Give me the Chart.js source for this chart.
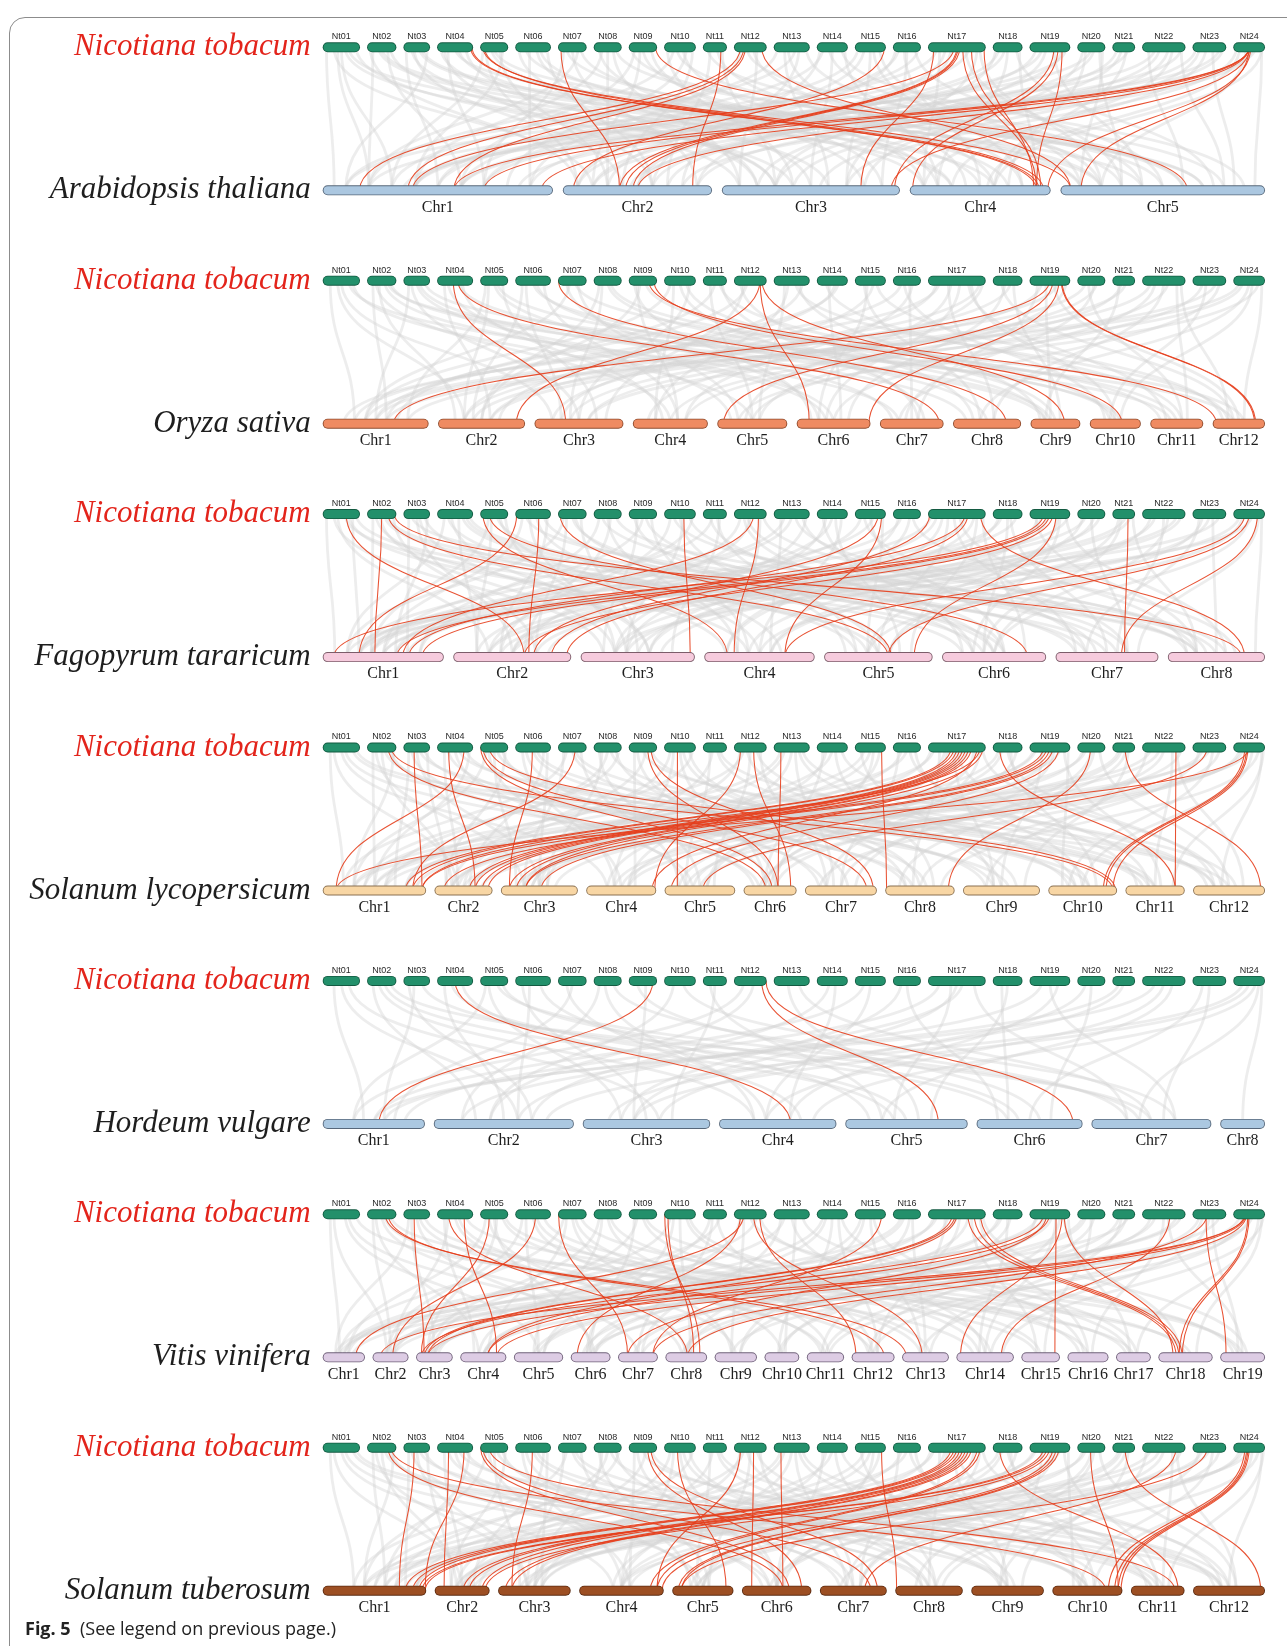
<!DOCTYPE html>
<html>
<head>
<meta charset="utf-8">
<script src="https://cdn.jsdelivr.net/npm/chart.js@4.4.1/dist/chart.umd.min.js"></script>
<style>
  html, body { margin: 0; padding: 0; background: #fff; }
  #wrap { position: relative; width: 1287px; height: 1646px; overflow: hidden; }
  #frame { position: absolute; left: 9px; top: 17px; width: 1320px; height: 1660px;
           border: 1.5px solid #8c8c8c; border-radius: 16px; box-sizing: border-box; }
  #c { position: absolute; left: 0; top: 0; }
  #cap { position: absolute; left: 25px; top: 1617px; font-family: "Open Sans", sans-serif;
         font-size: 18px; line-height: 22px; color: #222; white-space: nowrap; }
  #cap b { font-weight: 700; }
</style>
</head>
<body>
<div id="wrap">
  <div id="frame"></div>
  <canvas id="c" width="1287" height="1646"></canvas>
  <div id="cap"><b>Fig. 5</b>&nbsp; (See legend on previous page.)</div>
</div>
<script>
// ---- Nicotiana tabacum pseudo-chromosomes (relative lengths) ----
const ntNames = ['Nt01','Nt02','Nt03','Nt04','Nt05','Nt06','Nt07','Nt08','Nt09','Nt10','Nt11','Nt12',
                 'Nt13','Nt14','Nt15','Nt16','Nt17','Nt18','Nt19','Nt20','Nt21','Nt22','Nt23','Nt24'];
const ntLengths = [37.3, 29.3, 26.6, 36.0, 28.0, 35.7, 28.6, 28.0, 28.3, 31.7, 24.0, 32.7,
                   36.0, 31.0, 31.0, 28.0, 57.7, 29.7, 40.7, 28.0, 22.7, 43.3, 33.7, 31.7];

// ---- compared species ----
const speciesNames = ['Arabidopsis thaliana', 'Oryza sativa', 'Fagopyrum tararicum',
                      'Solanum lycopersicum', 'Hordeum vulgare', 'Vitis vinifera', 'Solanum tuberosum'];
const athLengths = [30.4, 19.7, 23.5, 18.6, 27.0];
const osaLengths = [168, 138, 141, 119, 111, 117, 101, 108, 79, 81, 84, 83];
const ftaLengths = [192, 187, 181, 175, 172, 165, 163, 154];
const slyLengths = [164, 92, 122, 111, 112, 84, 114, 110, 122, 109, 94, 114];
const hvuLengths = [162, 222, 202, 186, 194, 168, 190, 71];
const vviLengths = [67, 57, 58, 73, 78, 63, 63, 66, 67, 55, 59, 68, 74, 91, 61, 65, 55, 86, 71];
const stuLengths = [164, 87, 115, 134, 97, 110, 106, 107, 115, 111, 85, 114];

// Links: "ntChr.pos>chr.pos" (pos = fraction along the chromosome)
const athRed = `4.93>4.9 4.97>4.92 5.1>5.05 5.15>4.95 7.1>2.38 9.95>5.62 11.75>2.87 12.2>1.16 12.3>1.37
 12.35>1.57 12.85>5.05 15.95>2.07 17.1>3.78 17.45>1.39 17.5>2.38 17.52>2.42 17.55>2.47 17.6>4.9 17.75>4.93
 17.97>4.88 19.6>3.97 19.7>4.02 19.8>4.9 24.5>1.57 24.5>1.7 24.5>1.95 24.5>2.5 24.52>3.95 24.55>4.98 24.5>5.1`;
const athGray = `1.1>1.05 1.3>2.2 1.5>1.3 1.7>4.3 1.9>3.1 2.2>1.2 2.5>5.2 2.8>3.3 3.1>1.5 3.4>2.4 3.7>5.4 3.9>1.1
 4.1>3.6 4.3>1.7 4.6>4.1 5.2>2.1 5.5>5.7 5.8>1.4 6.1>3.2 6.4>1.9 6.7>4.5 6.9>2.6 7.3>5.1 7.7>1.2 8.2>3.8 8.5>2.3
 8.8>5.6 9.2>1.6 9.5>4.2 10.1>3.4 10.4>5.3 10.7>1.8 11.3>2.7 11.6>4.6 12.4>5.8 12.7>3.1 13.1>1.3 13.4>4.4
 13.7>2.8 13.9>5.2 14.2>1.5 14.5>3.5 14.8>5.9 15.3>2.1 15.6>4.8 16.2>1.7 16.5>3.9 16.8>5.5 17.15>1.1 17.3>2.5
 17.65>5.3 17.85>3.7 18.2>1.9 18.5>4.2 18.8>5.75 19.15>2.2 19.4>3.2 19.9>1.4 20.3>4.7 20.6>2.6 20.9>5.1
 21.4>3.3 21.7>1.6 22.15>5.6 22.4>2.9 22.7>4.3 22.9>1.85 23.2>3.55 23.6>5.85 23.9>2.45 24.2>4.55 24.7>1.35 24.9>5.95
 1.4>1.2 1.6>3.4 2.1>2.1 2.4>4.6 2.7>1.6 3.3>3.3 3.6>5.1 4.2>2.6 4.5>5.7 4.8>3.2 5.1>1.3 5.4>4.3 5.7>2.3 6.3>5.2
 6.6>3.5 7.2>1.7 7.5>2.9 7.8>4.7 8.3>1.4 8.7>3.1 9.1>5.5 9.4>2.2 9.8>3.9 10.3>1.2 10.6>4.1 10.9>2.4 11.2>5.6
 11.8>3.3 12.2>1.9 12.6>4.8 13.3>3.6 13.6>1.1 14.1>2.6 14.4>5.4 14.9>4.2 15.1>1.6 15.5>3.7 15.8>5.1 16.1>2.3
 16.4>4.5 16.9>1.4 17.2>4.1 17.4>2.9 17.7>1.5 17.9>5.2 18.1>3.3 18.4>2.1 18.9>4.9 19.3>1.7 19.6>5.4 19.8>2.7
 20.2>3.8 20.5>1.2 20.8>5.3 21.2>2.5 21.6>4.6 22.3>1.4 22.6>3.4 22.9>5.8 23.1>2.2 23.4>4.1 23.8>1.6 24.1>3.7
 24.4>5.2 24.6>2.8 24.9>4.6`;

const osaRed = `4.45>3.35 4.58>7.93 7.02>8.78 9.71>12.07 9.89>10.63 12.79>2.9 12.8>6.17 12.86>9.68
 19.49>1.67 19.57>5.09 19.72>6.98 19.78>12.8 19.8>12.82`;
const osaGray = `1.2>1.3 1.5>3.2 1.8>5.5 2.2>1.6 2.4>2.2 2.6>6.4 2.8>9.3 3.3>3.5 3.6>8.2 4.2>2.6 4.7>4.4 5.2>1.8
 5.5>7.2 5.8>3.7 6.2>2.4 6.5>10.5 6.8>4.6 7.4>1.4 7.7>5.3 8.3>3.4 8.6>11.5 9.2>6.2 9.4>2.5 10.3>4.3 10.7>9.5
 11.5>1.7 11.8>7.6 12.3>3.8 13.3>5.6 13.6>12.3 13.8>2.7 14.4>6.6 14.7>1.5 15.3>8.4 15.6>3.3 16.4>10.3 16.7>4.7
 17.2>1.2 17.4>5.4 17.7>11.3 17.9>2.3 18.4>6.7 18.7>9.6 19.3>3.4 19.6>12.5 20.3>1.5 20.6>7.4 21.4>4.5 22.2>2.6
 22.5>8.6 22.8>11.7 23.3>5.5 23.7>1.8 24.3>3.6 24.6>10.6 24.9>12.6
 1.4>2.3 1.7>7.3 2.3>4.5 2.7>11.4 3.2>1.5 3.5>6.5 3.8>12.4 4.3>5.2 4.6>9.4 5.3>2.3 5.6>10.6 6.3>3.3 6.6>8.5
 7.3>6.3 7.6>12.6 8.2>2.5 8.5>9.3 9.3>4.6 9.6>11.2 10.2>1.4 10.5>7.7 10.8>3.5 11.3>5.5 11.7>10.4 12.2>8.3
 12.4>1.6 13.4>4.3 13.7>9.2 14.3>11.6 14.6>2.3 15.4>6.3 15.7>12.2 16.3>1.3 16.6>7.5 17.15>3.2 17.35>8.6
 17.55>6.4 17.75>10.5 17.95>4.2 18.3>12.4 18.6>2.6 19.2>7.6 19.4>9.4 19.7>1.4 19.9>5.6 20.4>11.6 20.7>3.6
 21.3>9.3 21.6>2.4 22.3>6.5 22.6>4.7 22.9>12.3 23.4>10.4 23.8>7.3 24.2>1.6 24.5>8.4 24.8>5.3`;

const ftaRed = `1.63>2.6 2.5>1.43 2.72>5.59 2.93>8.76 5.1>4.21 5.33>6.82 6.04>1.3 6.66>2.64 7.07>5.62 10.62>3.96
 12.6>1.66 12.75>4.27 15.75>2.68 15.86>4.73 17.03>2.83 17.64>1.71 17.69>2.96 17.91>8.79 19.34>1.09 19.42>1.61
 19.49>1.82 19.57>2.6 19.65>5.83 21.69>7.67 24.36>4.73 24.5>5.59 24.76>7.64`;
const ftaGray = `1.1>1.1 1.4>2.3 1.7>4.4 1.9>6.2 2.2>1.4 2.45>3.3 2.7>7.5 3.2>1.7 3.5>2.5 3.8>5.3 4.2>1.2 4.4>3.6
 4.7>6.6 4.9>8.3 5.4>2.2 5.7>4.5 6.2>1.5 6.4>3.3 6.8>7.2 7.3>2.7 7.6>5.6 8.2>1.8 8.5>4.3 8.8>8.6 9.3>3.2 9.6>6.5
 10.2>2.4 10.5>5.2 10.8>7.7 11.4>1.3 11.7>3.8 12.3>6.3 12.5>2.6 12.9>8.4 13.2>4.6 13.5>1.6 13.8>7.3 14.3>3.4
 14.6>5.7 15.2>2.2 15.5>6.6 16.3>1.4 16.6>4.2 17.15>2.5 17.35>5.5 17.55>8.2 17.8>3.6 17.95>6.8 18.3>1.7 18.6>7.5
 19.2>4.4 19.3>2.8 19.7>5.4 19.9>8.6 20.3>1.2 20.6>3.7 21.4>6.4 21.8>2.3 22.2>4.6 22.5>7.6 22.8>1.5 23.3>5.6
 23.6>8.5 24.2>3.3 24.5>6.5 24.9>8.9
 1.3>3.2 1.6>5.5 1.8>1.3 2.3>4.2 2.6>6.4 2.9>2.7 3.3>8.3 3.6>3.6 3.9>1.6 4.3>5.4 4.6>2.2 4.8>7.3 5.3>1.4 5.6>6.5
 5.9>3.4 6.3>8.5 6.6>4.7 6.9>2.4 7.2>1.2 7.5>6.3 7.8>3.5 8.3>7.6 8.6>2.6 9.2>5.5 9.5>1.5 9.8>4.4 10.3>8.2
 10.6>3.4 10.9>1.8 11.3>6.6 11.6>5.3 12.2>2.3 12.4>7.4 12.8>4.3 13.3>1.4 13.6>8.3 13.9>3.3 14.2>6.2 14.5>2.5
 14.8>4.5 15.3>7.7 15.6>1.3 15.9>5.4 16.2>3.6 16.7>8.7 17.05>1.3 17.25>4.2 17.45>7.2 17.65>2.3 17.85>5.8
 18.2>3.3 18.5>6.4 18.8>1.6 19.15>8.3 19.45>3.5 19.75>6.3 19.95>1.4 20.2>4.6 20.5>7.7 20.8>2.7 21.3>5.6
 21.6>1.5 21.9>8.3 22.3>3.4 22.6>6.5 22.9>2.4 23.2>7.3 23.5>4.5 23.8>1.3 24.3>5.4 24.6>2.5 24.8>7.8`;

const slyRed = `17.4>1.8 17.45>1.87 17.5>2.6 17.55>2.7 17.6>2.82 17.65>2.92 17.7>3.11 17.75>3.2 17.85>4.94 17.9>1.96
 17.95>3.32 19.34>1.96 19.42>2.16 19.49>3.32 19.57>3.52 19.72>5.09 24.36>10.8 24.42>10.84 24.46>10.94 24.5>1.13
 2.72>6.42 2.83>10.94 3.4>1.96 4.32>2.7 4.75>1.13 5.02>6.54 5.1>7.86 5.33>10.98 6.48>3.11 7.6>1.87 9.67>6.65
 9.78>7.95 10.42>5.18 12.2>4.98 12.6>6.89 13.2>6.65 15.86>8.02 18.23>11.84 20.47>8.91 21.56>12.94 22.78>11.84 23.43>5.54`;
const slyGray = `1.2>1.2 1.5>4.3 1.8>9.6 2.2>1.5 2.5>2.3 2.8>6.2 3.2>1.7 3.5>3.5 3.8>8.3 4.2>2.4 4.5>5.3 4.8>10.4
 5.2>1.3 5.5>3.2 5.8>7.2 6.2>4.4 6.5>9.3 6.8>2.6 7.2>3.3 7.6>11.4 8.2>5.5 8.5>1.6 8.8>7.6 9.2>4.7 9.5>12.3
 10.2>2.5 10.5>6.4 10.8>8.5 11.4>3.6 11.6>9.7 12.3>1.4 12.5>5.7 12.7>10.6 13.3>2.7 13.6>7.4 13.8>12.6 14.3>4.3
 14.6>8.7 15.3>1.8 15.6>6.6 16.3>3.4 16.6>11.2 17.1>1.5 17.3>4.6 17.45>9.4 17.6>2.3 17.8>6.5 17.95>12.4 18.3>5.2
 18.6>10.7 19.15>1.9 19.35>3.7 19.6>7.7 19.85>11.6 20.3>2.6 20.6>8.2 21.4>4.5 21.7>9.8 22.2>1.3 22.5>6.3
 22.8>12.7 23.3>3.2 23.6>10.3 24.2>5.5 24.5>2.8 24.8>8.8 24.95>11.8
 1.3>2.4 1.6>6.3 1.9>11.5 2.3>3.3 2.6>8.4 2.9>1.3 3.3>5.4 3.6>10.6 3.9>2.2 4.3>7.3 4.6>12.5 4.9>1.5 5.3>4.5
 5.6>9.4 5.9>2.2 6.3>6.5 6.6>11.3 6.9>3.5 7.3>1.2 7.5>8.6 7.8>5.2 8.3>3.6 8.6>10.3 8.9>1.4 9.3>6.6 9.6>2.3
 9.8>11.5 10.3>4.4 10.6>8.3 10.9>1.8 11.3>5.3 11.7>12.3 12.2>3.5 12.4>9.5 12.8>7.3 13.2>1.6 13.5>4.6 13.7>10.4
 14.2>6.4 14.5>2.4 14.8>12.2 15.2>9.4 15.5>3.3 15.8>5.6 16.2>7.5 16.5>1.3 16.8>10.5 17.05>3.4 17.2>8.4 17.35>5.6
 17.5>11.4 17.7>1.8 17.9>7.3 18.2>3.5 18.5>12.3 18.8>6.4 19.1>2.3 19.3>9.5 19.55>5.4 19.75>1.5 19.95>10.2
 20.2>4.4 20.5>7.5 20.8>12.5 21.3>3.3 21.6>6.6 22.1>9.3 22.4>2.5 22.7>11.5 22.9>5.3 23.2>8.5 23.5>1.6 23.8>7.2
 24.3>4.6 24.6>10.5 24.9>12.4`;

const hvuRed = `4.5>4.61 9.85>1.55 12.85>5.76 12.98>6.91`;
const hvuGray = `1.3>1.4 1.7>3.6 2.2>2.3 2.6>5.4 3.4>1.6 3.7>6.3 4.2>2.5 4.7>4.7 5.3>3.3 5.6>7.4 6.4>2.6 6.7>5.2
 7.5>1.7 8.4>4.3 9.3>6.6 10.3>2.4 10.6>7.7 11.5>3.7 12.3>1.3 13.4>5.6 14.4>2.7 15.5>4.4 16.5>6.2 17.2>1.8
 17.5>3.4 17.8>7.3 18.5>5.7 19.3>2.2 19.7>4.6 20.5>6.7 21.5>3.2 22.3>1.5 22.7>5.3 23.5>7.6 24.3>2.8 24.7>4.8 24.9>8.5
 1.5>2.6 2.4>4.3 2.8>7.5 3.2>2.7 4.4>5.5 5.2>1.3 5.8>6.4 6.2>3.5 7.3>4.4 8.2>2.2 8.7>7.3 9.6>3.4 11.3>5.3
 12.6>2.4 13.7>7.5 14.6>4.6 15.3>1.5 16.3>3.3 17.4>5.4 17.6>2.6 18.3>6.3 19.5>7.7 20.3>3.6 21.3>1.6 22.5>4.4
 23.3>6.5 24.5>3.4 24.8>7.4`;

const vviRed = `2.62>13.09 2.72>12.76 3.4>3.22 4.32>8.53 4.75>4.79 5.33>3.14 6.57>2.56 7.02>7.24 10.02>8.83
 10.12>8.68 12.2>6.16 12.3>1.78 12.6>13.43 12.79>12.1 15.86>7.87 17.42>3.22 17.47>3.31 17.5>4.59 17.69>18.33
 17.8>18.38 17.91>18.44 19.34>3.14 19.42>7.24 19.49>4.59 19.65>15.87 19.8>14.07 19.85>18.27 22.64>14.78
 23.43>7.87 23.4>19.13 24.36>3.31 24.4>4.79 24.46>18.38 24.5>18.44 24.42>8.53 24.38>2.21`;
const vviGray = `1.2>1.4 1.6>5.5 1.9>14.3 2.2>2.5 2.5>8.4 2.8>17.5 3.3>3.5 3.6>11.5 4.2>4.3 4.5>9.5 4.8>18.6 5.2>1.6
 5.5>6.5 5.8>13.4 6.2>2.4 6.5>10.5 6.8>16.5 7.3>4.6 7.6>12.4 8.3>5.4 8.6>15.5 9.3>3.4 9.6>19.5 10.3>6.4
 10.7>14.6 11.4>7.5 11.7>1.5 12.3>9.4 12.8>17.4 13.3>2.6 13.6>10.6 13.8>19.3 14.3>5.6 14.7>12.6 15.3>8.5
 15.6>16.4 16.4>3.6 16.7>13.5 17.15>1.3 17.35>6.6 17.55>11.4 17.75>15.4 17.95>19.6 18.3>4.5 18.6>9.6 19.2>2.3
 19.4>7.4 19.65>14.5 19.85>18.4 20.3>5.5 20.6>10.4 21.4>13.6 21.7>1.7 22.2>8.6 22.5>16.6 22.8>3.4 23.3>12.5
 23.6>19.4 24.2>6.5 24.5>11.6 24.8>17.6 24.95>14.8
 1.3>2.4 1.7>7.5 2.3>4.4 2.6>12.5 3.2>1.3 3.5>6.6 3.8>15.4 4.3>2.6 4.6>11.4 5.3>8.5 5.6>3.3 5.9>17.3 6.3>5.5
 6.6>13.6 7.2>1.4 7.5>9.4 7.8>18.5 8.2>3.3 8.5>11.6 9.2>6.5 9.5>14.4 10.2>2.4 10.5>8.6 10.8>16.3 11.3>4.4
 11.6>12.5 12.2>5.6 12.5>19.4 12.7>1.6 13.2>7.6 13.5>14.5 14.2>3.5 14.5>10.4 14.8>17.6 15.2>6.4 15.5>13.4
 16.3>1.5 16.6>9.6 17.1>4.5 17.3>12.6 17.5>2.5 17.7>8.5 17.9>16.5 18.2>6.3 18.5>14.4 19.15>10.5 19.35>1.4
 19.55>5.4 19.75>12.4 19.95>17.4 20.2>3.5 20.5>15.6 21.3>8.4 21.6>11.5 22.3>6.6 22.6>19.5 22.9>2.6 23.2>9.4
 23.5>14.6 23.8>4.5 24.3>13.4 24.6>7.6 24.9>18.7`;

const stuRed = `17.4>1.8 17.45>1.87 17.5>1.93 17.55>2.52 17.6>2.63 17.65>2.86 17.7>3.1 17.75>3.19 17.85>4.84 17.9>4.92
 19.34>1.96 19.42>1.99 19.49>2.92 19.57>4.98 19.65>5.1 19.72>5.15 24.36>10.8 24.42>10.89 24.46>10.94 24.5>10.98
 2.72>6.59 2.83>10.76 3.4>1.74 4.32>2.17 4.75>1.99 5.02>6.68 5.1>7.76 5.33>11.82 6.48>3.19 9.67>6.86 9.78>7.86
 10.42>5.88 12.2>4.92 12.6>6.14 13.2>6.59 15.86>8.02 18.23>11.88 20.47>10.94 21.56>12.94 22.78>7.67 23.43>5.15`;
const stuGray = `1.2>1.3 1.5>4.4 1.8>9.5 2.2>1.6 2.5>2.4 2.8>6.3 3.2>1.8 3.5>3.4 3.8>8.4 4.2>2.5 4.5>5.4 4.8>10.5
 5.2>1.4 5.5>3.3 5.8>7.3 6.2>4.5 6.5>9.4 6.8>2.7 7.2>3.4 7.6>11.5 8.2>5.6 8.5>1.7 8.8>7.5 9.2>4.6 9.5>12.4
 10.2>2.6 10.5>6.5 10.8>8.6 11.4>3.5 11.6>9.6 12.3>1.5 12.5>5.6 12.7>10.7 13.3>2.8 13.6>7.5 13.8>12.5 14.3>4.4
 14.6>8.6 15.3>1.9 15.6>6.5 16.3>3.5 16.6>11.3 17.1>1.6 17.3>4.5 17.45>9.5 17.6>2.4 17.8>6.6 17.95>12.5 18.3>5.3
 18.6>10.6 19.15>1.8 19.35>3.6 19.6>7.6 19.85>11.5 20.3>2.5 20.6>8.3 21.4>4.6 21.7>9.7 22.2>1.4 22.5>6.4
 22.8>12.6 23.3>3.3 23.6>10.4 24.2>5.4 24.5>2.7 24.8>8.7 24.95>11.7
 1.3>2.5 1.6>6.4 1.9>11.4 2.3>3.4 2.6>8.5 2.9>1.4 3.3>5.5 3.6>10.5 3.9>2.3 4.3>7.4 4.6>12.4 4.9>1.6 5.3>4.6
 5.6>9.5 5.9>2.3 6.3>6.4 6.6>11.4 6.9>3.6 7.3>1.3 7.5>8.5 7.8>5.3 8.3>3.5 8.6>10.4 8.9>1.5 9.3>6.5 9.6>2.4
 9.8>11.6 10.3>4.5 10.6>8.4 10.9>1.9 11.3>5.4 11.7>12.4 12.2>3.6 12.4>9.4 12.8>7.4 13.2>1.7 13.5>4.5 13.7>10.5
 14.2>6.5 14.5>2.5 14.8>12.3 15.2>9.5 15.5>3.4 15.8>5.5 16.2>7.6 16.5>1.4 16.8>10.4 17.05>3.5 17.2>8.5 17.35>5.5
 17.5>11.5 17.7>1.9 17.9>7.4 18.2>3.6 18.5>12.4 18.8>6.5 19.1>2.4 19.3>9.4 19.55>5.5 19.75>1.6 19.95>10.3
 20.2>4.5 20.5>7.6 20.8>12.6 21.3>3.4 21.6>6.5 22.1>9.4 22.4>2.6 22.7>11.6 22.9>5.4 23.2>8.6 23.5>1.7 23.8>7.3
 24.3>4.5 24.6>10.6 24.9>12.5`;

// ---- styling ----
const NT_FILL = '#23906b', NT_EDGE = '#135a41';
const speciesStyle = [
  { fill: '#abc7e0', edge: '#56677a', gap: 0.0105 },
  { fill: '#ef8b62', edge: '#8d4a2c', gap: 0.0100 },
  { fill: '#f6cbdd', edge: '#7c5d6a', gap: 0.0100 },
  { fill: '#f8d6a4', edge: '#8a7152', gap: 0.0089 },
  { fill: '#abc8e1', edge: '#56677a', gap: 0.0094 },
  { fill: '#ddcce4', edge: '#6f6079', gap: 0.0081 },
  { fill: '#9d4f23', edge: '#5a2a10', gap: 0.0090 }
];
const NT_GAP = 0.0075;
const TRACK_GAP = 0.6127;          // distance between the two tracks of a panel (in panel units)
const BAR_W = 10, BAR_INNER = 8.2; // chromosome bar thickness in px
const PX_PER_X = 942.3;            // horizontal extent of a track in px

// ---- helpers ----
function parseLinks(txt) {
  return txt.trim().split(/\s+/).map(s => {
    const [a, b] = s.split('>');
    const pa = a.split('.'), pb = b.split('.');
    return [parseInt(pa[0], 10) - 1, parseFloat('0.' + pa[1]), parseInt(pb[0], 10) - 1, parseFloat('0.' + pb[1])];
  });
}
function layoutRow(lengths, gap) {
  const total = lengths.reduce((a, b) => a + b, 0);
  const avail = 1 - gap * (lengths.length - 1);
  let x = 0;
  return lengths.map(l => {
    const w = l / total * avail;
    const seg = { s: x, e: x + w };
    x += w + gap;
    return seg;
  });
}
const posOn = (seg, f) => seg.s + f * (seg.e - seg.s);

const ntRow = layoutRow(ntLengths, NT_GAP);
const speciesLengths = [athLengths, osaLengths, ftaLengths, slyLengths, hvuLengths, vviLengths, stuLengths];
const redLinks = [athRed, osaRed, ftaRed, slyRed, hvuRed, vviRed, stuRed].map(parseLinks);
const grayLinks = [athGray, osaGray, ftaGray, slyGray, hvuGray, vviGray, stuGray].map(parseLinks);

const panels = speciesNames.map((name, i) => ({
  name,
  row: layoutRow(speciesLengths[i], speciesStyle[i].gap),
  chrNames: speciesLengths[i].map((_, k) => 'Chr' + (k + 1)),
  style: speciesStyle[i],
  red: redLinks[i],
  gray: grayLinks[i]
}));

// ---- chromosome bars as thick round-capped segments ----
const capX = (BAR_W / 2) / PX_PER_X;
const datasets = [];
function addBar(seg, yv, fill, edge) {
  const pts = [{ x: seg.s + capX, y: yv }, { x: seg.e - capX, y: yv }];
  datasets.push({ data: pts, showLine: true, borderColor: edge, borderWidth: BAR_W,
    borderCapStyle: 'round', pointRadius: 0, order: 2, clip: false });
  datasets.push({ data: pts, showLine: true, borderColor: fill, borderWidth: BAR_INNER,
    borderCapStyle: 'round', pointRadius: 0, order: 1, clip: false });
}
panels.forEach((p, i) => {
  ntRow.forEach(seg => addBar(seg, i, NT_FILL, NT_EDGE));
  p.row.forEach(seg => addBar(seg, i + TRACK_GAP, p.style.fill, p.style.edge));
});

// ---- synteny links drawn beneath the bars ----
const linkPlugin = {
  id: 'syntenyLinks',
  beforeDatasetsDraw(chart) {
    const { ctx, scales: { x, y } } = chart;
    ctx.save();
    ctx.lineCap = 'round';
    panels.forEach((p, i) => {
      const yt = y.getPixelForValue(i), yb = y.getPixelForValue(i + TRACK_GAP);
      const ym = (yt + yb) / 2;
      const draw = (links, color, width) => {
        ctx.strokeStyle = color; ctx.lineWidth = width;
        links.forEach(([a, fa, b, fb]) => {
          const x1 = x.getPixelForValue(posOn(ntRow[a], fa));
          const x2 = x.getPixelForValue(posOn(p.row[b], fb));
          ctx.beginPath();
          ctx.moveTo(x1, yt);
          ctx.bezierCurveTo(x1, ym, x2, ym, x2, yb);
          ctx.stroke();
        });
      };
      draw(p.gray, 'rgba(212,212,212,0.42)', 2.8);
      draw(p.red, 'rgba(230,62,28,0.9)', 1.05);
    });
    ctx.restore();
  },
  afterDatasetsDraw(chart) {
    const { ctx, scales: { x, y } } = chart;
    ctx.save();
    const x0 = x.getPixelForValue(0);
    panels.forEach((p, i) => {
      const yt = y.getPixelForValue(i), yb = y.getPixelForValue(i + TRACK_GAP);
      // species names
      ctx.font = 'italic 31px "Liberation Serif"';
      ctx.textAlign = 'right'; ctx.textBaseline = 'alphabetic';
      ctx.fillStyle = '#e3241b';
      ctx.fillText('Nicotiana tobacum', x0 - 12, yt + 8);
      ctx.fillStyle = '#1e1e1e';
      ctx.fillText(p.name, x0 - 12, yb + 8);
      // Nt chromosome names
      ctx.font = '9px "Liberation Sans"';
      ctx.textAlign = 'center'; ctx.textBaseline = 'middle';
      ctx.fillStyle = '#2a2a2a';
      ntRow.forEach((seg, k) => ctx.fillText(ntNames[k], x.getPixelForValue((seg.s + seg.e) / 2), yt - 10.5));
      // species chromosome names
      ctx.font = '16px "Liberation Serif"';
      ctx.fillStyle = '#1e1e1e';
      p.row.forEach((seg, k) => ctx.fillText(p.chrNames[k], x.getPixelForValue((seg.s + seg.e) / 2), yb + 17));
    });
    ctx.restore();
  }
};

new Chart(document.getElementById('c'), {
  type: 'scatter',
  data: { datasets },
  options: {
    responsive: false,
    animation: false,
    events: [],
    devicePixelRatio: 1,
    layout: { padding: 0 },
    plugins: { legend: { display: false }, tooltip: { enabled: false } },
    scales: {
      x: { type: 'linear', display: false, min: -0.34246, max: 1.02334 },
      y: { type: 'linear', display: false, reverse: true, min: -0.20266, max: 6.8496 }
    }
  },
  plugins: [linkPlugin]
});
</script>
</body>
</html>
